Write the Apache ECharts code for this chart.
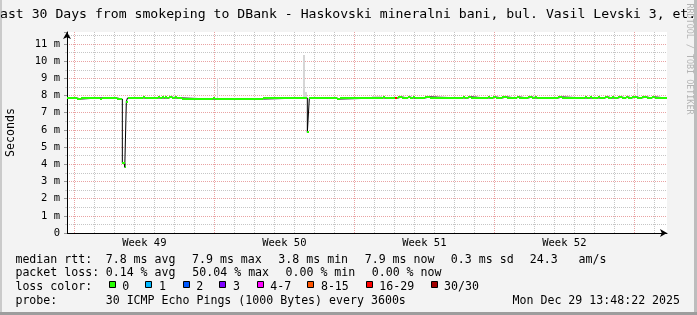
<!DOCTYPE html>
<html>
<head>
<meta charset="utf-8">
<script src="https://cdn.jsdelivr.net/npm/echarts@6/dist/echarts.min.js"></script>
<style>
html,body{margin:0;padding:0;background:#f3f3f3;}
#chart{width:697px;height:315px;}
</style>
</head>
<body>
<div id="chart"></div>
<script>
// ---- data (hours since Sun Nov 30 00:00; values in ms) ----
const rangeStartHour = -8.8;
const rangeEndHour = 711.2;

const medianStartHour = [-8.8, 3.2, 7.7, 30.8, 33.2, 50.9, 57.6, 60.5, 62.4, 63.8,
  82.8, 85.2, 100.4, 102.8, 105.2, 107.0, 108.8, 111.2, 113.6, 117.2,
  120.8, 123.2, 129.2, 166.4, 168.8, 226.8, 279.6, 282.0, 314.9, 318.8,
  370.8, 372.8, 384.8, 387.2, 388.8, 392.9, 400.1, 402.8, 406.8, 408.8,
  420.8, 426.8, 466.8, 468.8, 472.8, 476.0, 496.8, 498.8, 502.8, 505.7,
  513.6, 518.9, 530.9, 533.6, 544.8, 549.6, 552.8, 554.9, 580.8, 585.6,
  612.8, 614.9, 618.8, 620.9, 628.8, 631.2, 636.8, 640.8, 644.9, 647.3,
  652.8, 656.9, 661.7, 664.8, 668.9, 674.9, 680.9, 686.9, 692.9, 696.8];
const medianMs = [7.86, 7.80, 7.86, 7.80, 7.86, 7.80, 4.06, 3.82, 7.65, 7.86,
  7.92, 7.86, 7.92, 7.86, 7.92, 7.86, 7.92, 7.86, 7.92, 7.86,
  7.92, 7.86, 7.80, 7.86, 7.80, 7.86, 5.86, 7.86, 7.80, 7.86,
  7.92, 7.86, 7.86, 7.86, 7.92, 7.86, 7.92, 7.86, 7.92, 7.86,
  7.92, 7.86, 7.92, 7.86, 7.92, 7.86, 7.92, 7.86, 7.92, 7.86,
  7.92, 7.86, 7.92, 7.86, 7.92, 7.86, 7.92, 7.86, 7.92, 7.86,
  7.92, 7.86, 7.92, 7.86, 7.92, 7.86, 7.92, 7.86, 7.92, 7.86,
  7.92, 7.86, 7.92, 7.86, 7.92, 7.86, 7.92, 7.86, 7.92, 7.86];

const lossEventHour = [385.5];
const lossEventPings = [18];

const smokeStartHour = [170.9, 274.1, 276.8, 356.9, 426.8, 474.8, 674.9];
const smokeEndHour   = [172.8, 276.8, 279.2, 368.9, 434.9, 482.9, 676.8];
const smokeHighMs    = [9.00, 10.36, 8.22, 7.98, 7.98, 7.98, 8.75];
const smokeLowMs     = [7.86, 7.86, 7.86, 7.86, 7.86, 7.86, 7.86];

const dayLineHours = [0,24,48,72,96,120,144,168,192,216,240,264,288,312,336,360,384,408,432,456,480,504,528,552,576,600,624,648,672,696];
const weekMidHours = [84, 252, 420, 588];
const weekLabels = ['Week 49', 'Week 50', 'Week 51', 'Week 52'];

const lossThresholds = [0, 1, 2, 3, 4, 8, 16, 30];
const lossLabels = ['0', '1', '2', '3', '4-7', '8-15', '16-29', '30/30'];
const lossColors = ['#26ff00', '#00b8ff', '#0059ff', '#7e00ff', '#ff00ff', '#ff5500', '#ff0000', '#a10000'];

const titleText = 'ast 30 Days from smokeping to DBank - Haskovski mineralni bani, bul. Vasil Levski 3, et.';
const rttLine = ['median rtt:', '7.8 ms avg', '7.9 ms max', '3.8 ms min', '7.9 ms now', '0.3 ms sd', '24.3   am/s'];
const lossLine = ['packet loss:', '0.14 % avg', '50.04 % max', '0.00 % min', '0.00 % now'];
const probeLine = ['probe:', '30 ICMP Echo Pings (1000 Bytes) every 3600s'];
const dateText = 'Mon Dec 29 13:48:22 2025';

// ---- build series data ----
function lossColor(n) {
  let c = lossColors[0];
  for (let i = 0; i < lossThresholds.length; i++) if (n >= lossThresholds[i]) c = lossColors[i];
  return c;
}
const bandData = medianStartHour.map((h, i) => {
  const end = i + 1 < medianStartHour.length ? medianStartHour[i + 1] : rangeEndHour;
  let lost = 0;
  lossEventHour.forEach((lh, k) => { if (lh >= h && lh < end) lost = lossEventPings[k]; });
  return [h, end, medianMs[i], lost];
});
const lineData = medianStartHour.map((h, i) => [h, medianMs[i]]);
lineData.push([rangeEndHour, medianMs[medianMs.length - 1]]);
const smokeData = smokeStartHour.map((h, i) => [h, smokeEndHour[i], smokeLowMs[i], smokeHighMs[i]]);

// ---- graphic (texts) ----
const MONO = 'DejaVu Sans Mono';
const LF = '11.6px "DejaVu Sans Mono"';
function txt(x, y, s, font, extra) {
  return Object.assign({
    type: 'text', x: x, y: y, z: 10,
    style: { text: s, font: font || LF, fill: '#000', align: 'left', textAlign: 'left', verticalAlign: 'middle', textVerticalAlign: 'middle' }
  }, extra || {});
}
const graphics = [];
graphics.push({ type: 'rect', z: 1, shape: { x: 0, y: 0, width: 2, height: 315 }, style: { fill: '#cacaca' } });
graphics.push({ type: 'rect', z: 1, shape: { x: 694, y: 0, width: 3, height: 315 }, style: { fill: '#bdbdbd' } });
graphics.push({ type: 'rect', z: 1, shape: { x: 0, y: 312, width: 697, height: 3 }, style: { fill: '#9d9d9d' } });
graphics.push({ type: 'text', x: 689.3, y: 59, rotation: -Math.PI / 2, z: 5,
  style: { text: 'RRDTOOL / TOBI OETIKER', font: '8.4px "DejaVu Sans Mono"', fill: '#b4b4b4', align: 'center', textAlign: 'center', verticalAlign: 'middle', textVerticalAlign: 'middle' } });
graphics.push(txt(0, 14.3, titleText, '13.15px "DejaVu Sans Mono"'));
const rttX = [15.4, 105.7, 192.0, 278.3, 364.7, 450.8, 529.7];
rttLine.forEach((s, i) => graphics.push(txt(rttX[i], 259.6, s)));
const lossX = [15.4, 105.7, 192.3, 285.5, 371.7];
lossLine.forEach((s, i) => graphics.push(txt(lossX[i], 273.3, s)));
graphics.push(txt(15.4, 287.0, 'loss color:'));
const boxX = [108.7, 145.3, 182.7, 219.3, 256.7, 307.3, 365.7, 430.5];
lossLabels.forEach((s, i) => {
  graphics.push({ type: 'rect', z: 10, shape: { x: Math.round(boxX[i]) + 0.5, y: 281.5, width: 6, height: 6 }, style: { fill: lossColors[i], stroke: '#000', lineWidth: 1 } });
  graphics.push(txt(boxX[i] + 13.6, 287.0, s));
});
graphics.push(txt(15.4, 300.9, probeLine[0]));
graphics.push(txt(105.7, 300.9, probeLine[1]));
graphics.push(txt(512.5, 300.9, dateText));

const chart = echarts.init(document.getElementById('chart'), null, { renderer: 'canvas' });
chart.setOption({
  animation: false,
  backgroundColor: '#f3f3f3',
  textStyle: { fontFamily: MONO },
  grid: { left: 67, right: 30, top: 32, bottom: 82, show: true, backgroundColor: '#ffffff', borderWidth: 0,
          containLabel: false, outerBoundsMode: 'none' },
  xAxis: {
    type: 'value', min: rangeStartHour, max: rangeEndHour,
    axisLine: { show: true, onZero: false, symbol: ['none', 'arrow'], symbolSize: [6, 7], lineStyle: { color: '#000', width: 1 } },
    axisTick: { show: false, customValues: dayLineHours },
    splitLine: { show: true, showMinLine: true, showMaxLine: true,
      lineStyle: { color: ['#e9a3a3', '#c6c6c6', '#c6c6c6', '#c6c6c6', '#c6c6c6', '#c6c6c6', '#c6c6c6'], type: [1, 1], width: 1 } },
    axisLabel: { show: true, customValues: weekMidHours, margin: 5, fontFamily: MONO, fontSize: 10.5, color: '#000',
      formatter: (v) => { const i = weekMidHours.indexOf(v); return i >= 0 ? weekLabels[i] : ''; } }
  },
  yAxis: {
    type: 'value', min: 0, max: 11.7, interval: 1,
    name: 'Seconds', nameLocation: 'middle', nameGap: 50, nameRotate: 90,
    nameTextStyle: { fontFamily: MONO, fontSize: 11.6, color: '#000' },
    axisLine: { show: true, onZero: false, symbol: ['none', 'arrow'], symbolSize: [6, 7], lineStyle: { color: '#000', width: 1 } },
    axisTick: { show: true, length: 3, lineStyle: { color: '#999' } },
    minorTick: { show: true, splitNumber: 2, length: 2, lineStyle: { color: '#ccc' } },
    splitLine: { show: true, showMinLine: false, showMaxLine: false, lineStyle: { color: '#e9a3a3', type: [1, 1], width: 1 } },
    minorSplitLine: { show: true, lineStyle: { color: '#c6c6c6', type: [1, 1], width: 1 } },
    axisLabel: { margin: 7, fontFamily: MONO, fontSize: 10.5, color: '#000',
      formatter: (v) => (Math.abs(v - Math.round(v)) > 1e-6 ? '' : (v === 0 ? '0' : Math.round(v) + ' m')) }
  },
  graphic: { elements: graphics },
  series: [
    {
      name: 'smoke', type: 'custom', z: 2, clip: true,
      encode: { x: [0, 1], y: [2, 3] },
      data: smokeData,
      renderItem: (params, api) => {
        const p0 = api.coord([api.value(0), api.value(3)]);
        const p1 = api.coord([api.value(1), api.value(2)]);
        const x0 = Math.round(p0[0]), x1 = Math.max(Math.round(p1[0]), x0 + 1);
        const y0 = Math.round(p0[1]), y1 = Math.round(p1[1]);
        return { type: 'rect', shape: { x: x0, y: y0, width: x1 - x0, height: y1 - y0 }, style: { fill: '#d6d6d6' } };
      }
    },
    {
      name: 'median', type: 'line', z: 3, step: 'end', symbol: 'none',
      lineStyle: { color: '#000', width: 1 },
      data: lineData
    },
    {
      name: 'medianBand', type: 'custom', z: 4, clip: true,
      encode: { x: [0, 1], y: 2 },
      data: bandData,
      renderItem: (params, api) => {
        const p0 = api.coord([api.value(0), api.value(2)]);
        const p1 = api.coord([api.value(1), api.value(2)]);
        const x0 = Math.round(p0[0]), x1 = Math.max(Math.round(p1[0]), x0 + 1);
        const y0 = Math.round(p0[1] - 1);
        return { type: 'rect', shape: { x: x0, y: y0, width: x1 - x0, height: 2 }, style: { fill: lossColor(api.value(3)) } };
      }
    }
  ]
});
</script>
</body>
</html>
